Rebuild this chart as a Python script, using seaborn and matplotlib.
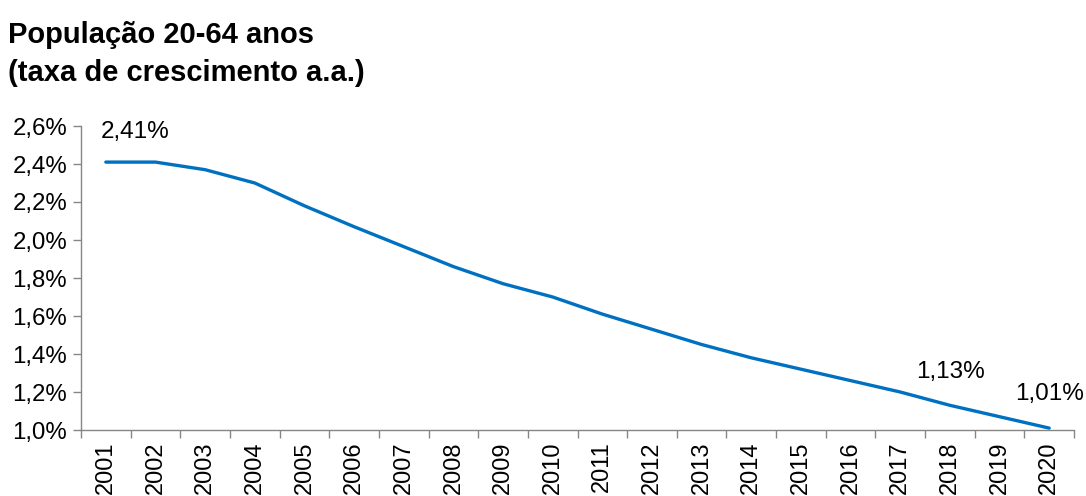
import matplotlib
matplotlib.use("Agg")
import matplotlib.pyplot as plt
import seaborn as sns
import pandas as pd
import numpy as np

years = [str(y) for y in range(2001, 2021)]
growth = [2.41, 2.41, 2.37, 2.30, 2.18, 2.07, 1.965, 1.86, 1.77, 1.70,
          1.61, 1.53, 1.45, 1.38, 1.32, 1.26, 1.20, 1.13, 1.07, 1.01]
y_ticks = [1.0, 1.2, 1.4, 1.6, 1.8, 2.0, 2.2, 2.4, 2.6]
y_tick_labels = ["1,0%", "1,2%", "1,4%", "1,6%", "1,8%", "2,0%", "2,2%", "2,4%", "2,6%"]
labelled = {"2001": "2,41%", "2018": "1,13%", "2020": "1,01%"}
label_offsets = {"2001": (29, 30), "2018": (1, 33), "2020": (0, 34)}

sns.set_theme(style="white")
plt.rcParams['font.family'] = ['Liberation Sans', 'DejaVu Sans']
plt.rcParams['text.color'] = 'black'

df = pd.DataFrame({"ano": years, "taxa": growth})

fig = plt.figure(figsize=(10.86, 4.96), dpi=100)
ax = fig.add_axes([81/1086, 1-430/496, (1074-81)/1086, (430-126)/496])

sns.lineplot(data=df, x="ano", y="taxa", ax=ax, color="#0070C0", linewidth=2.4, sort=False)

ax.set_xlim(-0.5, len(years) - 0.5)
ax.set_ylim(1.0, 2.6)
ax.set_xlabel("")
ax.set_ylabel("")

ax.set_xticks(range(len(years)))
ax.set_xticklabels(years, rotation=90, fontsize=17, color="black")
ax.set_xticks(np.arange(-0.5, len(years), 1.0), minor=True)
ax.tick_params(axis="x", which="major", length=0, pad=8)
ax.tick_params(axis="x", which="minor", length=6, width=1, color="#868686", direction="out", bottom=True)

ax.set_yticks(y_ticks)
ax.set_yticklabels(y_tick_labels, fontsize=17.3, color="black")
ax.tick_params(axis="y", which="major", length=6, width=1, color="#868686", direction="out", left=True, pad=4)

for s in ["top", "right"]:
    ax.spines[s].set_visible(False)
for s in ["left", "bottom"]:
    ax.spines[s].set_color("#868686")
    ax.spines[s].set_linewidth(1)

for i, yr in enumerate(years):
    if yr in labelled:
        dx, dy = label_offsets[yr]
        ax.annotate(labelled[yr], xy=(i, growth[i]), xytext=(dx, dy),
                    textcoords="offset pixels", ha="center", va="center",
                    fontsize=17.5, color="black", annotation_clip=False)

fig.text(8/1086, 1-43/496, "População 20-64 anos", fontsize=21, fontweight="bold",
         ha="left", va="baseline", color="black")
fig.text(8/1086, 1-81/496, "(taxa de crescimento a.a.)", fontsize=21, fontweight="bold",
         ha="left", va="baseline", color="black")

fig.savefig("out.png", dpi=100)
